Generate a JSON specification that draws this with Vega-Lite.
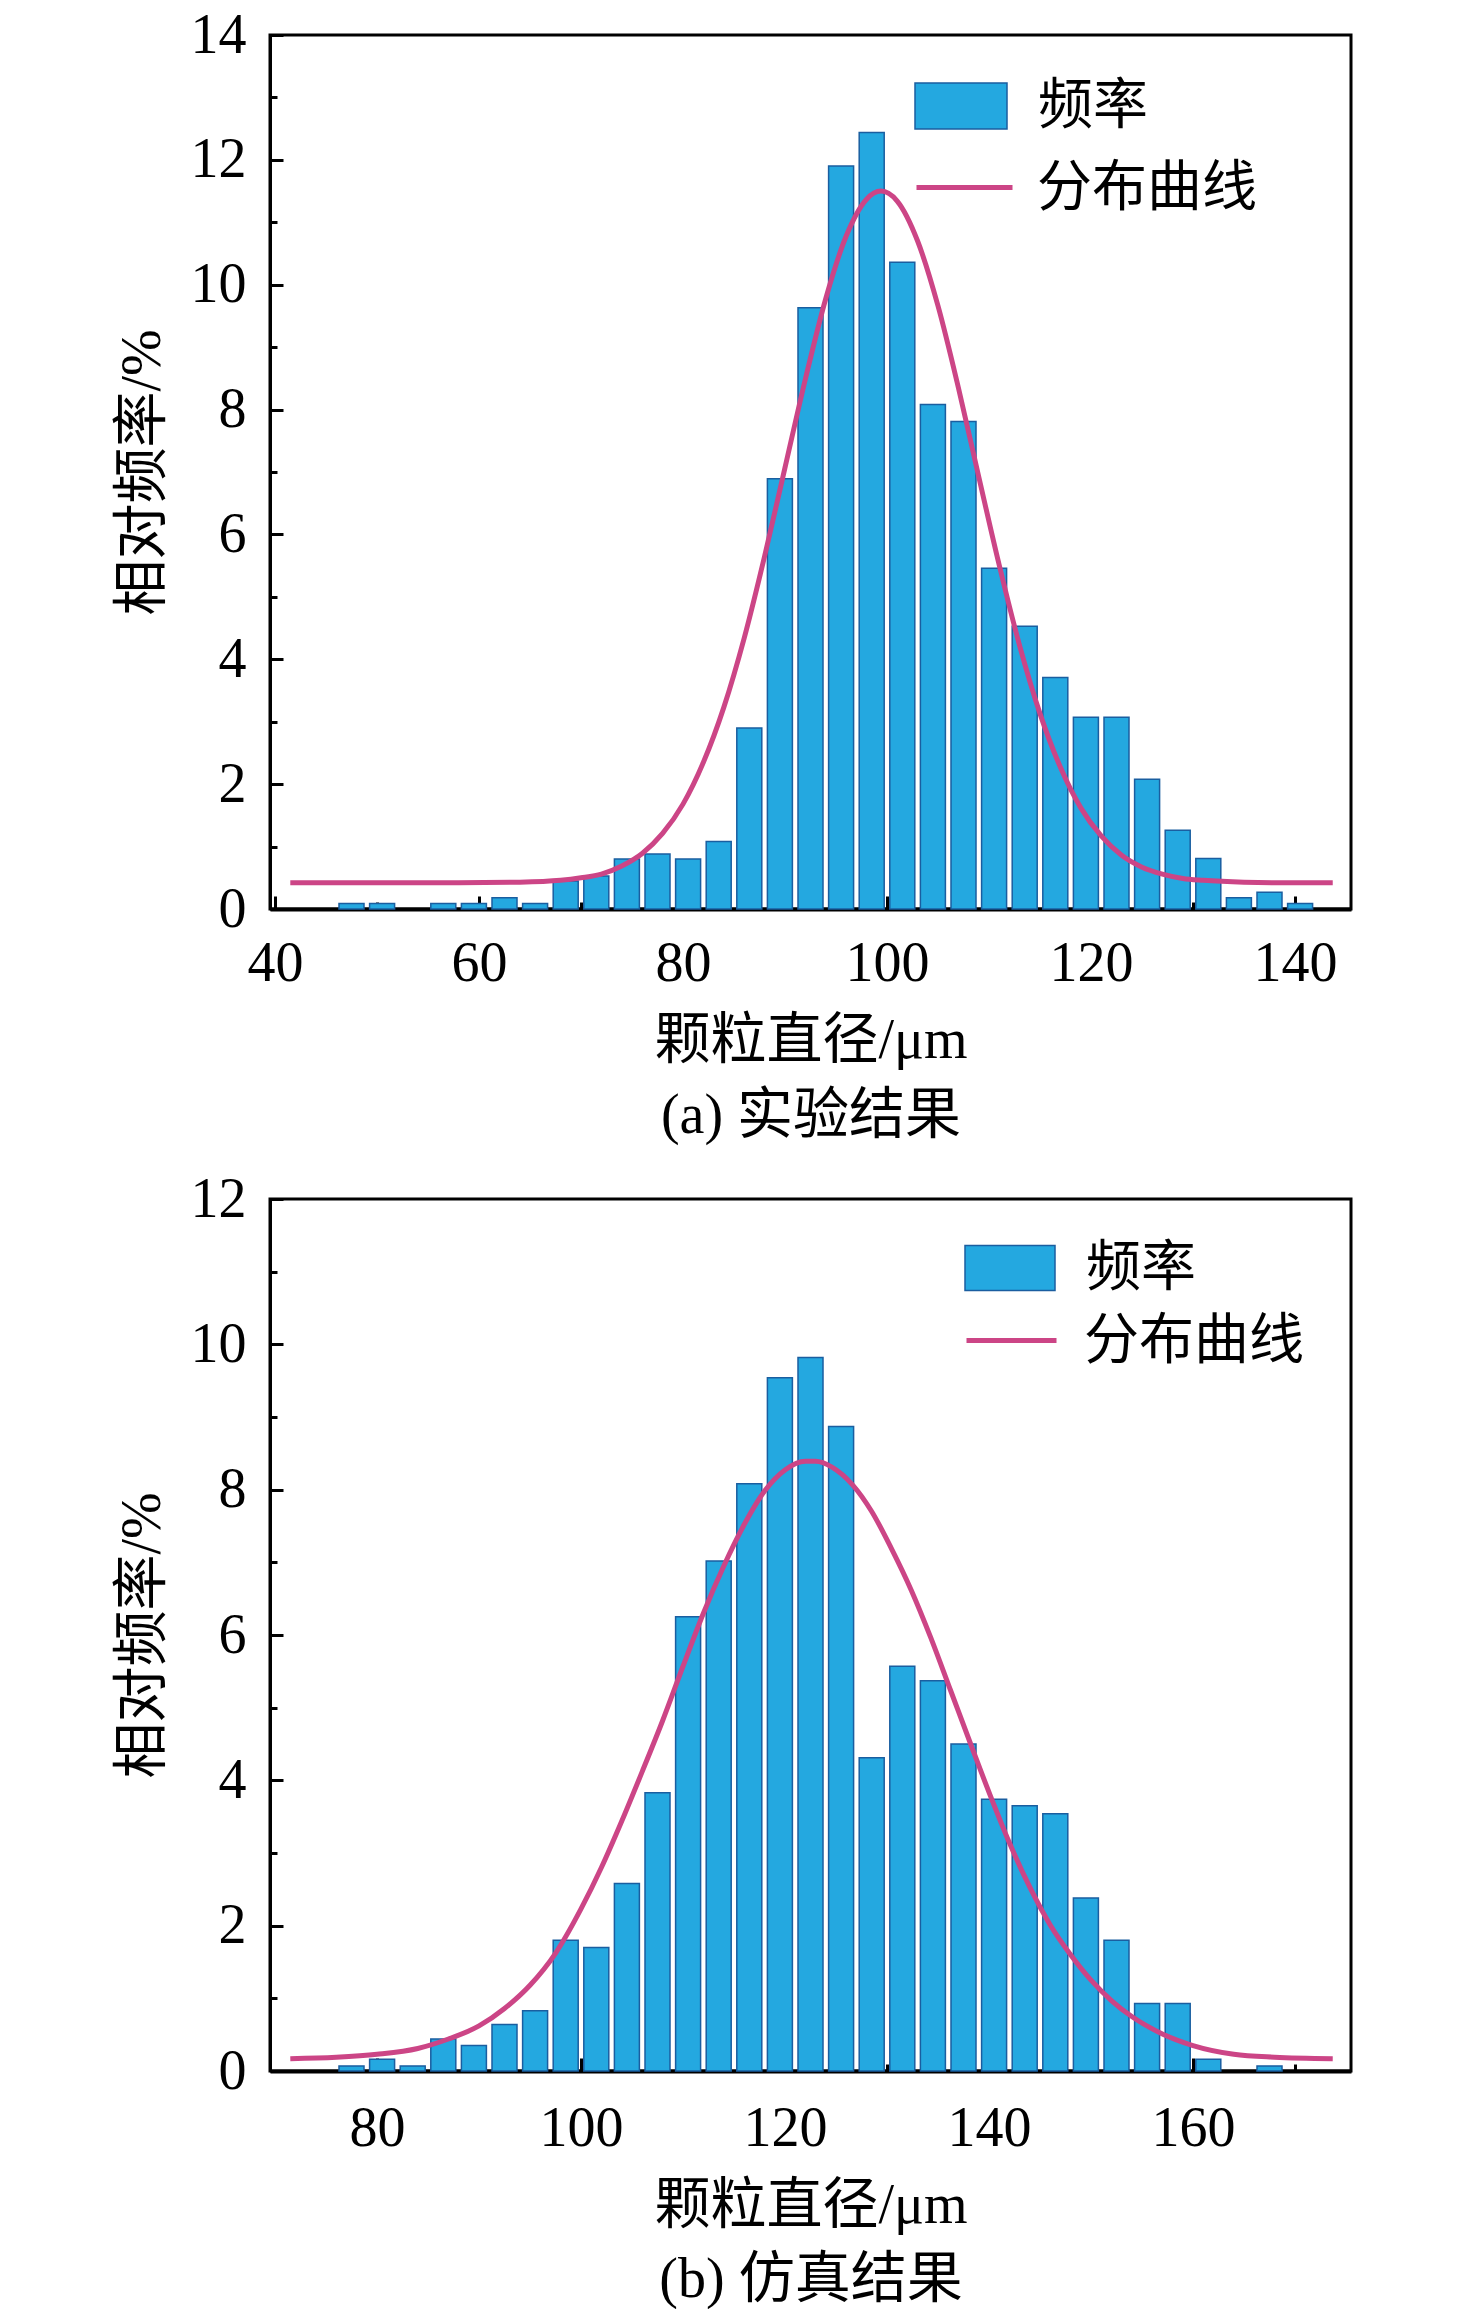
{
  "$schema": "https://vega.github.io/schema/vega-lite/v6.json",
  "background": "white",
  "padding": {"left": 112, "top": 5, "right": 0, "bottom": 0},
  "spacing": 24,
  "resolve": {"scale": {"fill": "independent", "stroke": "independent"}, "legend": {"fill": "independent", "stroke": "independent"}},
  "config": {
    "font": "Liberation Serif, Noto Sans CJK SC",
    "view": {"stroke": "black", "strokeWidth": 3},
    "axis": {
      "grid": false,
      "labelFont": "Liberation Serif, Noto Sans CJK SC",
      "titleFont": "Liberation Serif, Noto Sans CJK SC",
      "labelFontSize": 56,
      "titleFontSize": 56,
      "titleFontWeight": "normal",
      "labelColor": "black",
      "titleColor": "black",
      "domainColor": "black",
      "tickColor": "black"
    },
    "legend": {
      "labelFont": "Liberation Serif, Noto Sans CJK SC",
      "labelFontSize": 55,
      "labelColor": "black",
      "labelLimit": 500,
      "padding": 0
    }
  },
  "datasets": {
    "barsA": [
      {"d": 47.5, "f": 0.09}, {"d": 50.5, "f": 0.09}, {"d": 56.5, "f": 0.09}, {"d": 59.5, "f": 0.09},
      {"d": 62.5, "f": 0.18}, {"d": 65.5, "f": 0.09}, {"d": 68.5, "f": 0.45}, {"d": 71.5, "f": 0.53},
      {"d": 74.5, "f": 0.80}, {"d": 77.5, "f": 0.88}, {"d": 80.5, "f": 0.80}, {"d": 83.5, "f": 1.08},
      {"d": 86.5, "f": 2.90}, {"d": 89.5, "f": 6.89}, {"d": 92.5, "f": 9.63}, {"d": 95.5, "f": 11.90},
      {"d": 98.5, "f": 12.44}, {"d": 101.5, "f": 10.36}, {"d": 104.5, "f": 8.08}, {"d": 107.5, "f": 7.81},
      {"d": 110.5, "f": 5.46}, {"d": 113.5, "f": 4.53}, {"d": 116.5, "f": 3.71}, {"d": 119.5, "f": 3.07},
      {"d": 122.5, "f": 3.07}, {"d": 125.5, "f": 2.08}, {"d": 128.5, "f": 1.26}, {"d": 131.5, "f": 0.81},
      {"d": 134.5, "f": 0.18}, {"d": 137.5, "f": 0.27}, {"d": 140.5, "f": 0.09}
    ],
    "curveA": [
      {"d": 41.5, "f": 0.42}, {"d": 50, "f": 0.42}, {"d": 58, "f": 0.42}, {"d": 64, "f": 0.43},
      {"d": 68, "f": 0.46}, {"d": 70, "f": 0.50}, {"d": 72, "f": 0.56}, {"d": 74, "f": 0.69},
      {"d": 76, "f": 0.89}, {"d": 78, "f": 1.21}, {"d": 80, "f": 1.68}, {"d": 82, "f": 2.35},
      {"d": 84, "f": 3.23}, {"d": 86, "f": 4.34}, {"d": 88, "f": 5.65}, {"d": 90, "f": 7.07},
      {"d": 92, "f": 8.49}, {"d": 94, "f": 9.78}, {"d": 96, "f": 10.78}, {"d": 98, "f": 11.37},
      {"d": 99.4, "f": 11.50}, {"d": 101, "f": 11.34}, {"d": 103, "f": 10.70}, {"d": 105, "f": 9.66},
      {"d": 107, "f": 8.35}, {"d": 109, "f": 6.92}, {"d": 111, "f": 5.51}, {"d": 113, "f": 4.22},
      {"d": 115, "f": 3.13}, {"d": 117, "f": 2.27}, {"d": 119, "f": 1.62}, {"d": 121, "f": 1.17},
      {"d": 123, "f": 0.86}, {"d": 125, "f": 0.67}, {"d": 127, "f": 0.56}, {"d": 129, "f": 0.49},
      {"d": 131, "f": 0.46}, {"d": 135, "f": 0.43}, {"d": 140, "f": 0.42}, {"d": 143.7, "f": 0.42}
    ],
    "barsB": [
      {"d": 77.5, "f": 0.07}, {"d": 80.5, "f": 0.16}, {"d": 83.5, "f": 0.07}, {"d": 86.5, "f": 0.44},
      {"d": 89.5, "f": 0.35}, {"d": 92.5, "f": 0.64}, {"d": 95.5, "f": 0.83}, {"d": 98.5, "f": 1.80},
      {"d": 101.5, "f": 1.70}, {"d": 104.5, "f": 2.58}, {"d": 107.5, "f": 3.83}, {"d": 110.5, "f": 6.25},
      {"d": 113.5, "f": 7.02}, {"d": 116.5, "f": 8.08}, {"d": 119.5, "f": 9.54}, {"d": 122.5, "f": 9.82},
      {"d": 125.5, "f": 8.87}, {"d": 128.5, "f": 4.31}, {"d": 131.5, "f": 5.57}, {"d": 134.5, "f": 5.37},
      {"d": 137.5, "f": 4.50}, {"d": 140.5, "f": 3.74}, {"d": 143.5, "f": 3.65}, {"d": 146.5, "f": 3.54},
      {"d": 149.5, "f": 2.38}, {"d": 152.5, "f": 1.80}, {"d": 155.5, "f": 0.93}, {"d": 158.5, "f": 0.93},
      {"d": 161.5, "f": 0.16}, {"d": 167.5, "f": 0.07}
    ],
    "curveB": [
      {"d": 71.5, "f": 0.17}, {"d": 76, "f": 0.19}, {"d": 80, "f": 0.23}, {"d": 84, "f": 0.31},
      {"d": 87, "f": 0.44}, {"d": 90, "f": 0.62}, {"d": 92.5, "f": 0.86}, {"d": 95, "f": 1.18},
      {"d": 97.5, "f": 1.62}, {"d": 100, "f": 2.23}, {"d": 102, "f": 2.80}, {"d": 104, "f": 3.44},
      {"d": 106, "f": 4.12}, {"d": 108, "f": 4.82}, {"d": 110, "f": 5.57}, {"d": 112, "f": 6.30},
      {"d": 114, "f": 6.95}, {"d": 116, "f": 7.52}, {"d": 118, "f": 7.98}, {"d": 120, "f": 8.27},
      {"d": 122, "f": 8.39}, {"d": 123, "f": 8.39}, {"d": 124.6, "f": 8.31}, {"d": 126.6, "f": 8.07},
      {"d": 128.5, "f": 7.70}, {"d": 130.4, "f": 7.20}, {"d": 132.4, "f": 6.61}, {"d": 134.3, "f": 5.96},
      {"d": 136.2, "f": 5.25}, {"d": 138.2, "f": 4.50}, {"d": 140.1, "f": 3.80}, {"d": 142, "f": 3.14},
      {"d": 144, "f": 2.53}, {"d": 146, "f": 2.01}, {"d": 148, "f": 1.60}, {"d": 150, "f": 1.25},
      {"d": 152, "f": 0.97}, {"d": 154, "f": 0.75}, {"d": 157, "f": 0.51}, {"d": 160, "f": 0.35},
      {"d": 164, "f": 0.23}, {"d": 168, "f": 0.19}, {"d": 173.7, "f": 0.17}
    ]
  },
  "vconcat": [
    {
      "width": 1081,
      "height": 874,
      "layer": [
        {
          "data": {"name": "barsA"},
          "mark": {"type": "bar", "width": 25, "stroke": "#1A5EA0", "strokeWidth": 1.5},
          "encoding": {
            "x": {"field": "d", "type": "quantitative",
              "scale": {"domain": [40, 145], "nice": false, "zero": false},
              "axis": {"values": [40, 60, 80, 100, 120, 140], "tickSize": -13, "tickWidth": 3, "domainWidth": 4,
                "labelPadding": 40, "labelFlush": false, "title": ["颗粒直径/μm", "(a) 实验结果"],
                "titlePadding": 22, "titleLineHeight": 75}},
            "y": {"field": "f", "type": "quantitative",
              "scale": {"domain": [0, 14], "nice": false},
              "axis": {"values": [0, 2, 4, 6, 8, 10, 12, 14], "tickSize": -13, "tickWidth": 3, "domainWidth": 3,
                "labelPadding": 37, "labelFlush": false, "title": "相对频率/%", "titlePadding": 19}},
            "fill": {"datum": "频率", "type": "nominal",
              "scale": {"domain": ["频率"], "range": ["#24A8E0"]},
              "legend": {"orient": "none", "legendX": 644, "legendY": 24, "title": null,
                "symbolType": "M-1,-0.5H1V0.5H-1Z", "symbolSize": 8464,
                "symbolStrokeColor": "#1A5EA0", "symbolStrokeWidth": 1.5, "symbolOpacity": 1,
                "labelOffset": 30}}
          }
        },
        {
          "data": {"name": "curveA"},
          "mark": {"type": "line", "strokeWidth": 5, "interpolate": "monotone"},
          "encoding": {
            "x": {"field": "d", "type": "quantitative",
              "axis": {"orient": "bottom", "values": [50, 70, 90, 110, 130], "tickSize": -7, "tickWidth": 3,
                "labels": false, "domain": false, "title": null}},
            "y": {"field": "f", "type": "quantitative",
              "axis": {"orient": "left", "values": [1, 3, 5, 7, 9, 11, 13], "tickSize": -7, "tickWidth": 3,
                "labels": false, "domain": false, "title": null}},
            "stroke": {"datum": "分布曲线", "type": "nominal",
              "scale": {"domain": ["分布曲线"], "range": ["#CC4586"]},
              "legend": {"orient": "none", "legendX": 644, "legendY": 102, "title": null,
                "symbolType": "stroke", "symbolSize": 9216, "symbolStrokeWidth": 5,
                "labelOffset": 22}}
          }
        }
      ],
      "resolve": {"axis": {"x": "independent", "y": "independent"}}
    },
    {
      "width": 1081,
      "height": 872,
      "layer": [
        {
          "data": {"name": "barsB"},
          "mark": {"type": "bar", "width": 25, "stroke": "#1A5EA0", "strokeWidth": 1.5},
          "encoding": {
            "x": {"field": "d", "type": "quantitative",
              "scale": {"domain": [70, 175], "nice": false, "zero": false},
              "axis": {"values": [80, 100, 120, 140, 160], "tickSize": -13, "tickWidth": 3, "domainWidth": 4,
                "labelPadding": 43, "labelFlush": false, "title": ["颗粒直径/μm", "(b) 仿真结果"],
                "titlePadding": 22, "titleLineHeight": 74}},
            "y": {"field": "f", "type": "quantitative",
              "scale": {"domain": [0, 12], "nice": false},
              "axis": {"values": [0, 2, 4, 6, 8, 10, 12], "tickSize": -13, "tickWidth": 3, "domainWidth": 3,
                "labelPadding": 37, "labelFlush": false, "title": "相对频率/%", "titlePadding": 19}},
            "fill": {"datum": "频率", "type": "nominal",
              "scale": {"domain": ["频率"], "range": ["#24A8E0"]},
              "legend": {"orient": "none", "legendX": 694, "legendY": 23, "title": null,
                "symbolType": "M-1,-0.5H1V0.5H-1Z", "symbolSize": 8100,
                "symbolStrokeColor": "#1A5EA0", "symbolStrokeWidth": 1.5, "symbolOpacity": 1,
                "labelOffset": 30}}
          }
        },
        {
          "data": {"name": "curveB"},
          "mark": {"type": "line", "strokeWidth": 5, "interpolate": "monotone"},
          "encoding": {
            "x": {"field": "d", "type": "quantitative",
              "axis": {"orient": "bottom", "values": [90, 110, 130, 150, 170], "tickSize": -7, "tickWidth": 3,
                "labels": false, "domain": false, "title": null}},
            "y": {"field": "f", "type": "quantitative",
              "axis": {"orient": "left", "values": [1, 3, 5, 7, 9, 11], "tickSize": -7, "tickWidth": 3,
                "labels": false, "domain": false, "title": null}},
            "stroke": {"datum": "分布曲线", "type": "nominal",
              "scale": {"domain": ["分布曲线"], "range": ["#CC4586"]},
              "legend": {"orient": "none", "legendX": 694, "legendY": 94, "title": null,
                "symbolType": "stroke", "symbolSize": 8100, "symbolStrokeWidth": 5,
                "labelOffset": 25}}
          }
        }
      ],
      "resolve": {"axis": {"x": "independent", "y": "independent"}}
    }
  ]
}
